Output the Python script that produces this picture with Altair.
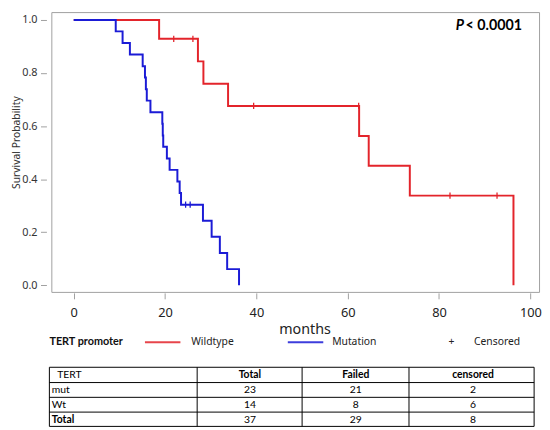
import altair as alt
import pandas as pd

# ---------------- data ----------------
wt_time = [0, 18.7, 27.2, 28.4, 33.8, 62.5, 64.6, 73.6, 96.3]
wt_surv = [1.0, 0.929, 0.844, 0.760, 0.676, 0.563, 0.451, 0.338, 0.0]
wt_cens_time = [21.9, 26.1, 39.4, 62.4, 82.4, 92.7]
wt_cens_surv = [0.929, 0.929, 0.676, 0.676, 0.338, 0.338]

mut_time = [0, 9.2, 10.7, 12.3, 15.1, 15.6, 15.8, 16.0, 16.8, 19.4, 19.5, 19.6,
            20.4, 21.0, 22.7, 23.2, 23.5, 28.3, 30.2, 32.0, 33.6, 36.2]
mut_surv = [1.0, 0.957, 0.913, 0.870, 0.826, 0.783, 0.739, 0.696, 0.652, 0.609,
            0.565, 0.522, 0.478, 0.435, 0.391, 0.348, 0.304, 0.243, 0.183, 0.122,
            0.061, 0.0]
mut_cens_time = [24.5, 25.5]
mut_cens_surv = [0.304, 0.304]

groups = ["Wildtype", "Mutation"]
legend_title = "TERT promoter"
p_label = ["P", "< 0.0001"]

table_header = ["TERT", "Total", "Failed", "censored"]
table_rows = ["mut", "Wt", "Total"]
table_total = [23, 14, 37]
table_failed = [21, 8, 29]
table_censored = [2, 6, 8]

x_ticks = [0, 20, 40, 60, 80, 100]
y_ticks = [0.0, 0.2, 0.4, 0.6, 0.8, 1.0]

# ---------------- styling / layout ----------------
RED = "#e3242b"
BLUE = "#1b1bd6"
FRAME = "#a0a0a0"
AXFONT = "Noto Sans"
TFONT = "Lato"

PAD_LEFT, PAD_TOP = 44, 1
W, H = 495, 284
x_scale = alt.Scale(domain=[-4.90, 101.9], nice=False, zero=False)
y_scale = alt.Scale(domain=[-0.0249, 1.0297], nice=False, zero=False)
color_scale = alt.Scale(domain=groups, range=[RED, BLUE])

# layout: page pixels converted to plot-relative pixels
OX = 8 + PAD_LEFT
OY = 8 + PAD_TOP


def rx(page_x):
    return page_x - OX


def ry(page_y):
    return page_y - OY


col_edges = [rx(v) for v in [50, 200, 306.5, 415, 542]]
row_edges = [ry(v) for v in [369.5, 385, 400, 415, 429.5]]
col_text_x = [None, rx(253.5), rx(361), rx(480)]
first_col_header_x = rx(58)
first_col_row_x = rx(52.5)
legend_y = ry(344)

# ---------------- survival curves ----------------
curves = pd.concat([
    pd.DataFrame({"time": wt_time, "surv": wt_surv, "group": groups[0]}),
    pd.DataFrame({"time": mut_time, "surv": mut_surv, "group": groups[1]}),
])
cens = pd.concat([
    pd.DataFrame({"time": wt_cens_time, "surv": wt_cens_surv, "group": groups[0]}),
    pd.DataFrame({"time": mut_cens_time, "surv": mut_cens_surv, "group": groups[1]}),
])

x_axis = alt.Axis(values=x_ticks, format="d", domain=False, grid=False,
                  tickSize=6, offset=1, tickColor=FRAME, labelPadding=8,
                  labelFontSize=13, labelFont=AXFONT, labelColor="#222",
                  title="months", titleFont=AXFONT, titleFontSize=14.5,
                  titleFontWeight="normal", titleColor="#222", titlePadding=3,
                  titleX=rx(309))
y_axis = alt.Axis(values=y_ticks, format=".1f", domain=False, grid=False,
                  tickSize=6, offset=5, tickColor=FRAME, labelPadding=3.5,
                  labelFontSize=11, labelFont=AXFONT, labelColor="#333",
                  title="Survival Probability", titleFont=AXFONT,
                  titleFontSize=10.5, titleFontWeight="normal",
                  titleColor="#333", titleX=-25.2, titleY=132)

lines = alt.Chart(curves).mark_line(interpolate="step-after", strokeWidth=2).encode(
    x=alt.X("time:Q", scale=x_scale, axis=x_axis),
    y=alt.Y("surv:Q", scale=y_scale, axis=y_axis),
    color=alt.Color("group:N", scale=color_scale, legend=None),
    detail="group:N",
    order="time:Q",
)

cens_marks = alt.Chart(cens).mark_point(shape="M0,-1L0,1", size=40, strokeWidth=1.3,
                                        filled=False, opacity=1).encode(
    x=alt.X("time:Q", scale=x_scale),
    y=alt.Y("surv:Q", scale=y_scale),
    color=alt.Color("group:N", scale=color_scale, legend=None),
)

p_italic = alt.Chart(pd.DataFrame({"t": [p_label[0]]})).mark_text(
    font=TFONT, fontSize=14.5, fontWeight="bold", fontStyle="italic",
    align="right", baseline="middle", color="#000").encode(
    x=alt.datum(85.5), y=alt.datum(0.977), text="t:N")
p_value = alt.Chart(pd.DataFrame({"t": [p_label[1]]})).mark_text(
    font=TFONT, fontSize=14.5, fontWeight="bold",
    align="left", baseline="middle", color="#000").encode(
    x=alt.datum(85.8), y=alt.datum(0.977), text="t:N")

# ---------------- legend row ----------------
leg_lines = pd.DataFrame({
    "px": [rx(147), rx(292)], "px2": [rx(183), rx(328)], "py": [legend_y, legend_y],
    "group": groups,
})
leg_line_marks = alt.Chart(leg_lines).mark_rule(strokeWidth=2, opacity=0.85).encode(
    x=alt.X("px:Q", scale=None, axis=None),
    x2="px2:Q",
    y=alt.Y("py:Q", scale=None, axis=None),
    color=alt.Color("group:N", scale=color_scale, legend=None),
)
leg_title = alt.Chart(pd.DataFrame({"t": [legend_title], "px": [rx(50)], "py": [legend_y]})).mark_text(
    font=TFONT, fontSize=11, fontWeight="bold", align="left", baseline="middle",
    color="#111").encode(
    x=alt.X("px:Q", scale=None, axis=None), y=alt.Y("py:Q", scale=None, axis=None), text="t:N")
leg_text = alt.Chart(pd.DataFrame({
    "t": [groups[0], groups[1], "Censored"], "px": [rx(194), rx(337), rx(481)],
    "py": [legend_y] * 3})).mark_text(
    font=AXFONT, fontSize=10.5, align="left", baseline="middle", color="#222").encode(
    x=alt.X("px:Q", scale=None, axis=None), y=alt.Y("py:Q", scale=None, axis=None), text="t:N")
leg_plus = alt.Chart(pd.DataFrame({"t": ["+"], "px": [rx(458)], "py": [legend_y]})).mark_text(
    font=AXFONT, fontSize=10.5, align="center", baseline="middle", color="#222").encode(
    x=alt.X("px:Q", scale=None, axis=None), y=alt.Y("py:Q", scale=None, axis=None), text="t:N")

# ---------------- table ----------------
rules = []
for y in row_edges:
    rules.append({"px": col_edges[0], "px2": col_edges[-1], "py": y, "py2": y})
for x in col_edges:
    rules.append({"px": x, "px2": x, "py": row_edges[0], "py2": row_edges[-1]})
table_lines = alt.Chart(pd.DataFrame(rules)).mark_rule(color="#000", strokeWidth=1).encode(
    x=alt.X("px:Q", scale=None, axis=None), x2="px2:Q",
    y=alt.Y("py:Q", scale=None, axis=None), y2="py2:Q")

row_mid = [(row_edges[i] + row_edges[i + 1]) / 2 + 0.5 for i in range(len(row_edges) - 1)]

left_reg, left_bold, ctr_reg, ctr_bold = [], [], [], []
left_reg.append({"t": table_header[0], "px": first_col_header_x, "py": row_mid[0]})
for j in range(1, 4):
    ctr_bold.append({"t": table_header[j], "px": col_text_x[j], "py": row_mid[0]})
for i, name in enumerate(table_rows):
    rec = {"t": name, "px": first_col_row_x, "py": row_mid[i + 1]}
    (left_bold if name == "Total" else left_reg).append(rec)
    for j, vals in zip([1, 2, 3], [table_total, table_failed, table_censored]):
        ctr_reg.append({"t": str(vals[i]), "px": col_text_x[j], "py": row_mid[i + 1]})


def table_text(recs, align, weight):
    return alt.Chart(pd.DataFrame(recs)).mark_text(
        font=TFONT, fontSize=10.5, fontWeight=weight, align=align,
        baseline="middle", color="#000").encode(
        x=alt.X("px:Q", scale=None, axis=None),
        y=alt.Y("py:Q", scale=None, axis=None), text="t:N")


chart = alt.layer(
    lines, cens_marks, p_italic, p_value,
    leg_line_marks, leg_title, leg_text, leg_plus,
    table_lines,
    table_text(left_reg, "left", "normal"),
    table_text(left_bold, "left", "bold"),
    table_text(ctr_reg, "center", "normal"),
    table_text(ctr_bold, "center", "bold"),
).properties(
    width=W, height=H,
    autosize=alt.AutoSizeParams(type="none"),
    padding={"left": PAD_LEFT, "top": PAD_TOP, "right": 3, "bottom": 137},
    background="white",
).configure_view(stroke=FRAME, strokeWidth=1)

chart.save("out.html", embed_options={"renderer": "svg", "actions": False})
